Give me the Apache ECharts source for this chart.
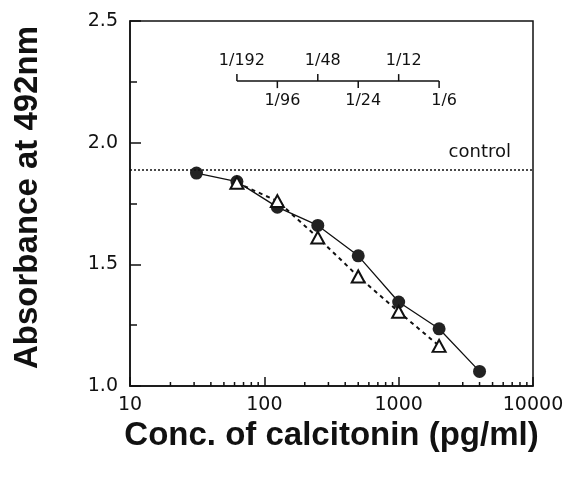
<!DOCTYPE html>
<html>
<head>
<meta charset="utf-8">
<script src="https://cdn.jsdelivr.net/npm/echarts@6/dist/echarts.min.js"></script>
<style>
  html, body { margin: 0; padding: 0; background: #fff; }
  #chart { width: 585px; height: 480px; }
</style>
</head>
<body>
<div id="chart"></div>
<script>
// filled circles, solid line
var circleConc = [31.25, 62.5, 125, 250, 500, 1000, 2000, 4000];
var circleAbs = [1.875, 1.84, 1.735, 1.66, 1.535, 1.345, 1.235, 1.06];
// open triangles, dashed line
var triangleConc = [62.5, 125, 250, 500, 1000, 2000];
var triangleAbs = [1.835, 1.76, 1.61, 1.45, 1.305, 1.165];
// control level (dotted line)
var controlValue = 1.885;
// dilution scale drawn inside the plot
var dilutionLabels = ['1/192', '1/96', '1/48', '1/24', '1/12', '1/6'];
var dilutionConc = [62.5, 125, 250, 500, 1000, 2000];
var dilutionLevel = 2.253;
// small ticks on the log axis
var xMinorTicks = [20, 30, 40, 50, 60, 70, 80, 90, 200, 300, 400, 500, 600, 700, 800, 900,
    2000, 3000, 4000, 5000, 6000, 7000, 8000, 9000];

var ink = '#111';
var tickFont = 'DejaVu Sans';
var titleFont = 'Liberation Sans';

function pairs(xs, ys) {
    return xs.map(function(x, i) { return [x, ys[i]]; });
}

var myChart = echarts.init(document.getElementById('chart'));

var option = {
    animation : false,
    backgroundColor : '#fff',
    grid : {
        left : 130,
        top : 21,
        right : 52,
        bottom : 94,
        show : true,
        borderColor : ink,
        borderWidth : 1.5
    },
    xAxis : {
        type : 'log',
        logBase : 10,
        min : 10,
        max : 10000,
        name : 'Conc. of calcitonin (pg/ml)',
        nameLocation : 'middle',
        nameGap : 33,
        nameTextStyle : {
            fontFamily : titleFont,
            fontWeight : 'bold',
            fontSize : 33,
            color : ink
        },
        axisLine : { lineStyle : { color : ink, width : 1.5 } },
        axisTick : { inside : true, length : 9, lineStyle : { color : ink, width : 1.5 } },
        axisLabel : {
            margin : 10,
            fontFamily : tickFont,
            fontSize : 19,
            color : ink,
            formatter : function(v) { return String(v); }
        },
        splitLine : { show : false }
    },
    yAxis : {
        type : 'value',
        min : 1,
        max : 2.5,
        interval : 0.5,
        name : 'Absorbance at 492nm',
        nameLocation : 'middle',
        nameGap : 86,
        nameTextStyle : {
            fontFamily : titleFont,
            fontWeight : 'bold',
            fontSize : 33,
            color : ink,
            padding : [0, 0, 0, 12]
        },
        axisLine : { show : true, lineStyle : { color : ink, width : 1.5 } },
        axisTick : { inside : true, length : 11, lineStyle : { color : ink, width : 1.5 } },
        minorTick : { show : true, splitNumber : 2, length : 7, lineStyle : { color : ink, width : 1.5 } },
        axisLabel : {
            margin : 12,
            fontFamily : tickFont,
            fontSize : 19,
            color : ink,
            formatter : function(v) { return v.toFixed(1); }
        },
        splitLine : { show : false }
    },
    series : [{
        // minor ticks of the log axis
        type : 'custom',
        silent : true,
        data : xMinorTicks.map(function(v) { return [v, 1]; }),
        renderItem : function(params, api) {
            var p = api.coord([api.value(0), api.value(1)]);
            return {
                type : 'line',
                shape : { x1 : p[0], y1 : p[1], x2 : p[0], y2 : p[1] - 4 },
                style : { stroke : ink, lineWidth : 1.5 }
            };
        }
    }, {
        // dilution scale base line
        type : 'line',
        silent : true,
        symbol : 'none',
        data : [[dilutionConc[0], dilutionLevel], [dilutionConc[dilutionConc.length - 1], dilutionLevel]],
        lineStyle : { color : ink, width : 1.5 }
    }, {
        // dilution scale ticks and labels
        type : 'custom',
        silent : true,
        data : dilutionConc.map(function(c) { return [c, dilutionLevel]; }),
        renderItem : function(params, api) {
            var i = params.dataIndex;
            var p = api.coord([api.value(0), api.value(1)]);
            var up = i % 2 === 0;
            return {
                type : 'group',
                children : [{
                    type : 'line',
                    shape : { x1 : p[0], y1 : p[1], x2 : p[0], y2 : p[1] + (up ? -7 : 7) },
                    style : { stroke : ink, lineWidth : 1.5 }
                }, {
                    type : 'text',
                    style : {
                        text : dilutionLabels[i],
                        x : p[0] + 5,
                        y : p[1] + (up ? -20 : 20),
                        align : 'center',
                        verticalAlign : 'middle',
                        fontFamily : tickFont,
                        fontSize : 16,
                        fill : ink
                    }
                }]
            };
        }
    }, {
        name : 'circle',
        type : 'line',
        data : pairs(circleConc, circleAbs),
        symbol : 'circle',
        symbolSize : 13,
        itemStyle : { color : '#222' },
        lineStyle : { color : ink, width : 1.3 },
        markLine : {
            silent : true,
            symbol : 'none',
            lineStyle : { color : ink, type : [2, 2], width : 1.5 },
            label : {
                show : true,
                position : 'insideEndTop',
                formatter : 'control',
                distance : 8,
                padding : [0, 14, 0, 0],
                fontFamily : tickFont,
                fontSize : 18,
                color : ink
            },
            data : [{ yAxis : controlValue }]
        }
    }, {
        name : 'triangle',
        type : 'line',
        data : pairs(triangleConc, triangleAbs),
        symbol : 'triangle',
        symbolSize : [13, 12],
        itemStyle : { color : '#fff', borderColor : ink, borderWidth : 2 },
        lineStyle : { color : ink, width : 2, type : [4, 4] }
    }]
};
myChart.setOption(option);
</script>
</body>
</html>
